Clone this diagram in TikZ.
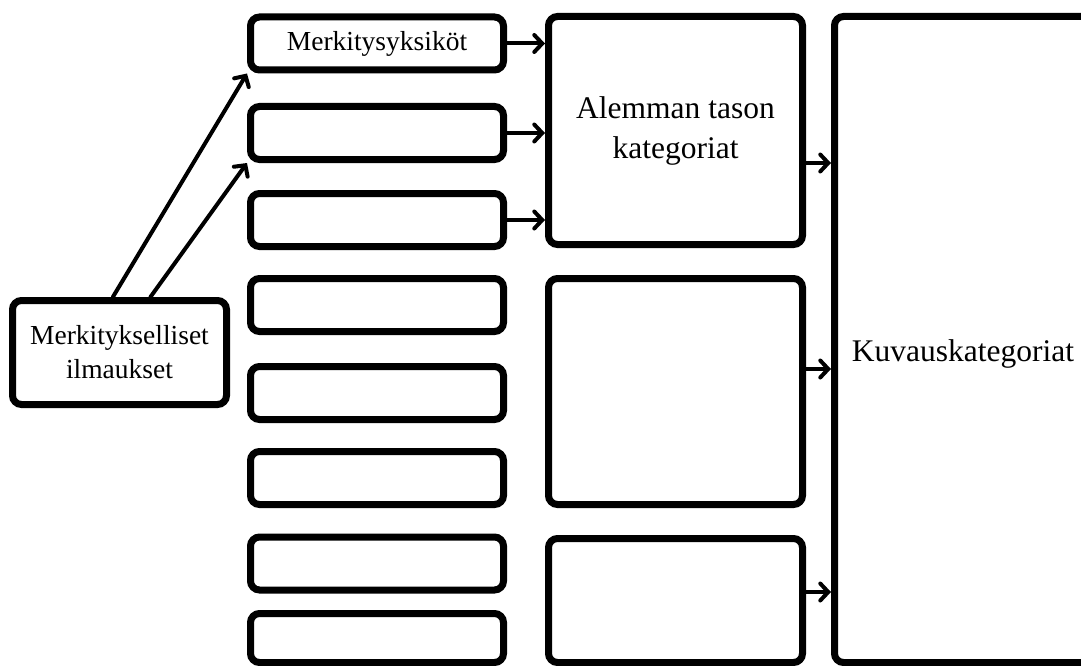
\documentclass[tikz,border=0pt]{standalone}
\usepackage{fontspec}
\setmainfont{Liberation Serif}
\usetikzlibrary{arrows.meta,calc}

\begin{document}
\begin{tikzpicture}[x=1pt,y=-1pt,
  box/.style={draw, line width=7pt, rounded corners=9pt, inner sep=0pt, align=center, fill=white},
  smalltext/.style={font=\fontsize{27.5}{34}\selectfont},
  bigtext/.style={font=\fontsize{31.5}{40}\selectfont},
  unit/.style={box, smalltext, minimum width=253pt, minimum height=53pt},
  cat/.style={box, bigtext, minimum width=254pt},
  arr/.style={line width=4pt, line cap=round, -{Straight Barb[length=8pt,width=17pt,line cap=round]}}]
\useasboundingbox (0,0) rectangle (1081,666);
\clip (0,0) rectangle (1081,666);

% source expressions
\node[box, smalltext, minimum width=214pt, minimum height=104pt] (src) at (119.5,352.5)
  {Merkitykselliset\\ilmaukset};

% column of meaning units
\node[unit] (u1) at (377,43.5) {Merkitysyksiköt};
\node[unit] (u2) at (377,133) {};
\node[unit] (u3) at (377,220) {};
\node[unit] (u4) at (377,305) {};
\node[unit] (u5) at (377,393) {};
\node[unit] (u6) at (377,478) {};
\node[unit] (u7) at (377,563.5) {};
\node[unit, minimum height=49pt] (u8) at (377,638) {};

% lower-level categories
\node[cat, minimum height=228pt] (c1) at (675.5,130.5) {\raisebox{-3pt}{Alemman tason}\\\raisebox{-3pt}{kategoriat}};
\node[cat, minimum height=226pt] (c2) at (675.5,391.5) {};
\node[cat, minimum height=124pt] (c3) at (675.5,600.5) {};

% descriptive categories, label sitting a little below the middle
\node[box, bigtext, minimum width=257pt, minimum height=646pt] (desc) at (963,339.5)
  {\raisebox{-22pt}[0pt][0pt]{Kuvauskategoriat}};

% arrow heights into the descriptive categories
\coordinate (y1) at (0,163);
\coordinate (y2) at (0,369);
\coordinate (y3) at (0,592);

% connectors
\draw[arr] ($(src.north west)!0.47!(src.north east)$) -- (u1.south west);
\draw[arr] ($(src.north west)!0.64!(src.north east)$) -- (u2.south west);

\draw[arr] (u1.east) -- (c1.west |- u1.east);
\draw[arr] (u2.east) -- (c1.west |- u2.east);
\draw[arr] (u3.east) -- (c1.west |- u3.east);

\draw[arr] (c1.east |- y1) -- (desc.west |- y1);
\draw[arr] (c2.east |- y2) -- (desc.west |- y2);
\draw[arr] (c3.east |- y3) -- (desc.west |- y3);
\end{tikzpicture}
\end{document}
